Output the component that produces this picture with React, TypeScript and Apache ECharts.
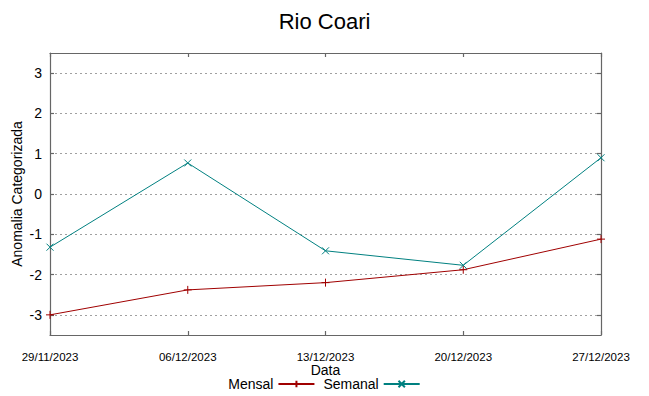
import React, { useEffect, useRef } from "react";
import * as echarts from "echarts";

const categories = ["29/11/2023", "06/12/2023", "13/12/2023", "20/12/2023", "27/12/2023"];
const mensal = [-3.0, -2.38, -2.2, -1.88, -1.12];
const semanal = [-1.32, 0.77, -1.41, -1.77, 0.9];
const yTicks = [-3, -2, -1, 0, 1, 2, 3];

const RED = "#a00000";
const TEAL = "#008080";
const AXIS = "#666666";
const FONT = "Liberation Sans, Arial, sans-serif";

const PLUS = "path://M0,5L10,5M5,0L5,10";
const CROSS = "path://M0,0L10,10M10,0L0,10";

export default function App() {
  const ref = useRef<HTMLDivElement>(null);
  useEffect(() => {
    const chart = echarts.init(ref.current!, null, { renderer: "svg" });
    const yBase = {
      type: "value" as const,
      min: -3.5,
      max: 3.5,
      axisLine: { show: true, onZero: false, lineStyle: { color: AXIS, width: 1.2 } },
    };
    const tick = { show: true, inside: true, length: 4, lineStyle: { color: AXIS, width: 1.2 } };
    chart.setOption({
      animation: false,
      backgroundColor: "#ffffff",
      textStyle: { fontFamily: FONT },
      title: {
        text: "Rio Coari",
        left: "center",
        top: 5,
        textStyle: { fontFamily: FONT, fontSize: 22, fontWeight: "normal", color: "#000" },
      },
      legend: {
        bottom: 5,
        left: "center",
        align: "right",
        padding: [0, 5, 0, 5],
        itemWidth: 36,
        itemHeight: 8,
        itemGap: 8,
        textStyle: { fontFamily: FONT, fontSize: 14, lineHeight: 13, color: "#000" },
        data: ["Mensal", "Semanal"],
      },
      grid: { left: 50, right: 48, top: 53, bottom: 61, containLabel: false },
      xAxis: [
        {
          type: "category",
          data: categories,
          boundaryGap: false,
          name: "Data",
          nameLocation: "middle",
          nameGap: 28,
          nameMoveOverlap: false,
          nameTextStyle: { fontFamily: FONT, fontSize: 14, lineHeight: 13, color: "#000" },
          axisLine: { show: true, onZero: false, lineStyle: { color: AXIS, width: 1.2 } },
          axisTick: tick,
          axisLabel: {
            fontFamily: FONT,
            fontSize: 11.5,
            lineHeight: 11,
            color: "#000",
            margin: 16,
            interval: 0,
            showMinLabel: true,
            showMaxLabel: true,
          },
          splitLine: { show: false },
        },
        {
          type: "category",
          data: categories,
          boundaryGap: false,
          position: "top",
          axisLine: { show: true, onZero: false, lineStyle: { color: AXIS, width: 1.2 } },
          axisTick: tick,
          axisLabel: { show: false },
          splitLine: { show: false },
        },
      ],
      yAxis: [
        {
          ...yBase,
          position: "left",
          name: "Anomalia Categorizada",
          nameLocation: "middle",
          nameGap: 26,
          nameMoveOverlap: false,
          nameTextStyle: { fontFamily: FONT, fontSize: 14, color: "#000" },
          axisTick: { ...tick, customValues: yTicks },
          axisLabel: {
            fontFamily: FONT,
            fontSize: 14,
            color: "#000",
            margin: 8,
            customValues: yTicks,
          },
          splitLine: {
            show: true,
            lineStyle: { color: "#a0a0a0", type: [2, 3], width: 1 },
          },
        },
        {
          ...yBase,
          position: "right",
          axisTick: { ...tick, customValues: yTicks },
          axisLabel: { show: false, customValues: yTicks },
          splitLine: { show: false },
        },
      ],
      series: [
        {
          name: "Mensal",
          type: "line",
          data: mensal,
          symbol: PLUS,
          symbolSize: 8,
          lineStyle: { color: RED, width: 1 },
          itemStyle: { color: "rgba(0,0,0,0)", borderColor: RED, borderWidth: 1 },
        },
        {
          name: "Semanal",
          type: "line",
          data: semanal,
          symbol: CROSS,
          symbolSize: 7,
          lineStyle: { color: TEAL, width: 1 },
          itemStyle: { color: "rgba(0,0,0,0)", borderColor: TEAL, borderWidth: 1 },
        },
      ],
    });
    return () => chart.dispose();
  }, []);
  return <div ref={ref} style={{ width: 649, height: 396, position: "absolute", left: 0, top: 0 }} />;
}
